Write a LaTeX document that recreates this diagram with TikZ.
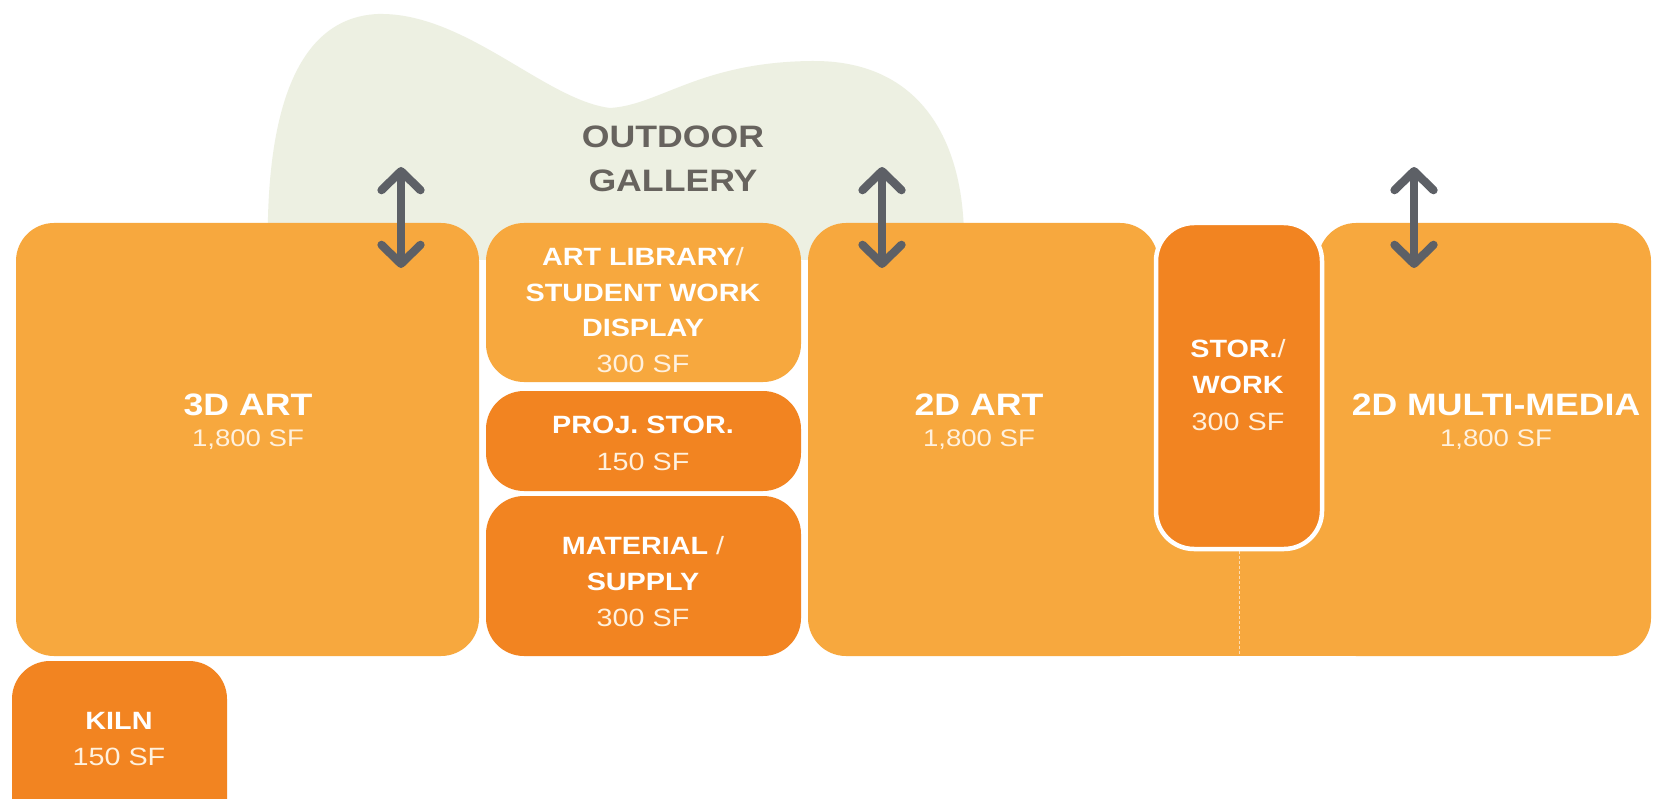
\documentclass[tikz,border=0pt]{standalone}
\usepackage{fontspec}
\setmainfont{Liberation Sans}[FakeStretch=1.15]
\usetikzlibrary{arrows.meta}
\definecolor{lorange}{HTML}{F7A83E}
\definecolor{dorange}{HTML}{F28421}
\definecolor{blob}{HTML}{EDF0E2}
\definecolor{gtext}{HTML}{67635E}
\definecolor{agray}{HTML}{5D6066}
\definecolor{cream}{HTML}{FFF1DE}
\tikzset{
  room/.style={rectangle, rounded corners=38pt, inner sep=0pt, draw=none},
  lroom/.style={room, fill=lorange},
  droom/.style={room, fill=dorange},
  bigt/.style={anchor=base, inner sep=0pt, text=white, font=\fontsize{31}{31}\selectfont\bfseries},
  smt/.style={anchor=base, inner sep=0pt, text=white, font=\fontsize{25}{25}\selectfont\bfseries},
  bigsf/.style={anchor=base, inner sep=0pt, text=cream, font=\fontsize{24}{24}\selectfont},
  smsf/.style={anchor=base, inner sep=0pt, text=cream, font=\fontsize{25}{25}\selectfont},
  dbl/.style={draw=agray, line width=8.3pt, line cap=round,
    {Straight Barb[round,length=19pt,width=39pt]}-{Straight Barb[round,length=19pt,width=39pt]}},
}
\begin{document}
\begin{tikzpicture}[x=1pt,y=-1pt]
\clip (0,0) rectangle (1653,799);
\fill[white] (0,0) rectangle (1653,799);
% outdoor gallery blob
\fill[blob] (268,260) .. controls (265,140) and (285,18) .. (378,14)
  .. controls (465,12) and (545,100) .. (610,108)
  .. controls (660,105) and (700,62) .. (812,61)
  .. controls (920,60) and (964,140) .. (964,240)
  -- (964,260) -- cycle;
% rooms
\node[lroom, minimum width=463pt, minimum height=433pt] (art3d) at (247.5,439.5) {};
\node[droom, minimum width=215pt, minimum height=179pt] (kiln) at (119.5,750.5) {};
\node[lroom, minimum width=315pt, minimum height=159pt] (lib) at (643.5,302.5) {};
\node[droom, minimum width=315pt, minimum height=100pt] (proj) at (643.5,441) {};
\node[droom, minimum width=315pt, minimum height=160pt] (mat) at (643.5,576) {};
\node[lroom, minimum width=350pt, minimum height=433pt] (art2d) at (983,439.5) {};
\node[lroom, minimum width=333pt, minimum height=433pt] (mm) at (1484.5,439.5) {};
\fill[lorange] (1120,300) rectangle (1360,656);
\node[droom, draw=white, line width=4.5pt, minimum width=166pt, minimum height=326pt] (stor) at (1239,386) {};
\coordinate (divb) at (1239,656);
\draw[white, opacity=.6, line width=1pt, dash pattern=on 3pt off 2pt] (stor.south) -- (divb);
% arrows
\coordinate (a1t) at (401,167); \coordinate (a1b) at (401,268);
\coordinate (a2t) at (882,167); \coordinate (a2b) at (882,268);
\coordinate (a3t) at (1414,167); \coordinate (a3b) at (1414,268);
\draw[dbl] (a1t) -- (a1b);
\draw[dbl] (a2t) -- (a2b);
\draw[dbl] (a3t) -- (a3b);
% labels
\node[bigt, text=gtext] (og1) at (673,148) {OUTDOOR};
\node[bigt, text=gtext] (og2) at (673,192) {GALLERY};
\node[bigt] (t3d) at (248,415) {3D ART};
\node[bigsf] (t3dsf) at (248,446) {1,800 SF};
\node[bigt] (t2d) at (979,415) {2D ART};
\node[bigsf] (t2dsf) at (979,446) {1,800 SF};
\node[bigt] (tmm) at (1496,415) {2D MULTI-MEDIA};
\node[bigsf] (tmmsf) at (1496,446) {1,800 SF};
\node[smt] (l1) at (643,266) {ART LIBRARY{\mdseries\color{cream}/}};
\node[smt] (l2) at (643,301.5) {STUDENT WORK};
\node[smt] (l3) at (643,337) {DISPLAY};
\node[smsf] (l4) at (643,372.5) {300 SF};
\node[smt] (p1) at (643,433) {PROJ. STOR.};
\node[smsf] (p2) at (643,470) {150 SF};
\node[smt] (m1) at (643,554) {MATERIAL {\mdseries\color{cream}/}};
\node[smt] (m2) at (643,590) {SUPPLY};
\node[smsf] (m3) at (643,626) {300 SF};
\node[smt] (s1) at (1238,357) {STOR.{\mdseries\color{cream}/}};
\node[smt] (s2) at (1238,393) {WORK};
\node[smsf] (s3) at (1238,430) {300 SF};
\node[smt] (k1) at (119,729) {KILN};
\node[smsf] (k2) at (119,765) {150 SF};
\end{tikzpicture}
\end{document}
